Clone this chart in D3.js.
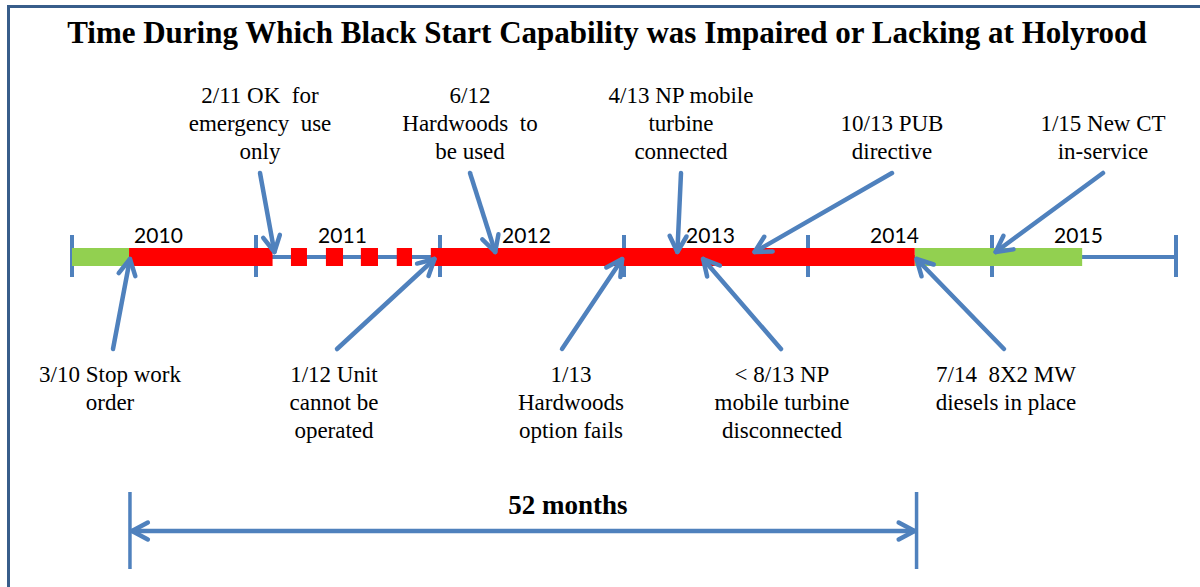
<!DOCTYPE html>
<html>
<head>
<meta charset="utf-8">
<script src="https://cdn.jsdelivr.net/npm/d3@7/dist/d3.min.js"></script>
<style>
  html, body { margin: 0; padding: 0; background: #ffffff; }
  svg text { white-space: pre; }
</style>
</head>
<body>
<svg id="chart" width="1200" height="587"></svg>
<script>
// ---------------- data ----------------
const title = "Time During Which Black Start Capability was Impaired or Lacking at Holyrood";
const years = [2010, 2011, 2012, 2013, 2014, 2015];
const axisStart = 2010;
const axisEnd = 2016;

// capability status along the timeline (decimal years)
const greenStarts = [2010.0, 2014.58];
const greenEnds   = [2010.31, 2015.49];
const redStarts   = [2010.31, 2011.19, 2011.38, 2011.57, 2011.765, 2011.95];
const redEnds     = [2011.09, 2011.277, 2011.473, 2011.663, 2011.848, 2014.58];

// events annotated above the timeline
const topDates  = [2011.10, 2012.30, 2013.29, 2013.71, 2015.02];
const topLabels = [
  ["2/11 OK  for", "emergency  use", "only"],
  ["6/12", "Hardwoods  to", "be used"],
  ["4/13 NP mobile", "turbine", "connected"],
  ["10/13 PUB", "directive"],
  ["1/15 New CT", "in-service"]
];
// events annotated below the timeline
const bottomDates  = [2010.315, 2011.97, 2012.99, 2013.43, 2014.59];
const bottomLabels = [
  ["3/10 Stop work", "order"],
  ["1/12 Unit", "cannot be", "operated"],
  ["1/13", "Hardwoods", "option fails"],
  ["< 8/13 NP", "mobile turbine", "disconnected"],
  ["7/14  8X2 MW", "diesels in place"]
];
const spanStart = 2010.315;
const spanEnd = 2014.59;
const spanLabel = "52 months";

// ---------------- layout ----------------
const topTextX = [260, 470, 681, 892, 1103];
const bottomTextX = [110, 334, 571, 782, 1006];
const bottomArrowX = [113, 337, 562, 781, 1004];

const BLUE = "#4F81BD";
const FRAME = "#385D8A";
const RED = "#FF0000";
const GREEN = "#92D050";
const SERIF = "'Liberation Serif', 'Times New Roman', serif";

const svg = d3.select("#chart");
const x = d3.scaleLinear().domain([axisStart, axisEnd]).range([72, 1176]);
const lineY = 257;

// frame
svg.append("rect")
  .attr("x", 8.5).attr("y", 6.5)
  .attr("width", 1220).attr("height", 620)
  .attr("fill", "none").attr("stroke", FRAME).attr("stroke-width", 3);

// title
svg.append("text")
  .attr("x", 607).attr("y", 43)
  .attr("text-anchor", "middle")
  .attr("font-family", SERIF).attr("font-weight", "bold")
  .attr("font-size", 31)
  .attr("fill", "#000")
  .text(title);

// base line
svg.append("line")
  .attr("x1", x(axisStart)).attr("x2", x(axisEnd))
  .attr("y1", lineY).attr("y2", lineY)
  .attr("stroke", BLUE).attr("stroke-width", 4);

// year ticks
const tickYears = years.concat([axisEnd]);
svg.selectAll("line.tick").data(tickYears).enter().append("line")
  .attr("class", "tick")
  .attr("x1", d => x(d)).attr("x2", d => x(d))
  .attr("y1", lineY - 22).attr("y2", lineY + 20)
  .attr("stroke", BLUE).attr("stroke-width", 4);

// year labels
svg.selectAll("text.year").data(years).enter().append("text")
  .attr("class", "year")
  .attr("x", d => x(d + 0.47)).attr("y", 243)
  .attr("text-anchor", "middle")
  .attr("font-family", "Lato, 'Open Sans', sans-serif")
  .attr("font-size", 21)
  .attr("fill", "#000")
  .text(d => d);

// status bars
const barH = 18;
svg.selectAll("rect.green").data(d3.range(greenStarts.length)).enter().append("rect")
  .attr("class", "green")
  .attr("x", i => x(greenStarts[i])).attr("width", i => x(greenEnds[i]) - x(greenStarts[i]))
  .attr("y", lineY - barH / 2).attr("height", barH)
  .attr("fill", GREEN);
svg.selectAll("rect.red").data(d3.range(redStarts.length)).enter().append("rect")
  .attr("class", "red")
  .attr("x", i => x(redStarts[i])).attr("width", i => x(redEnds[i]) - x(redStarts[i]))
  .attr("y", lineY - barH / 2).attr("height", barH)
  .attr("fill", RED);

// arrow helper
function arrow(g, x0, y0, x1, y1, heads) {
  g.append("line")
    .attr("x1", x0).attr("y1", y0).attr("x2", x1).attr("y2", y1)
    .attr("stroke", BLUE).attr("stroke-width", 4.5).attr("stroke-linecap", "round");
  const drawHead = (sx, sy, tx, ty) => {
    const th = Math.atan2(ty - sy, tx - sx);
    const L = 18, phi = 28 * Math.PI / 180;
    const a1 = [tx + L * Math.cos(th + Math.PI - phi), ty + L * Math.sin(th + Math.PI - phi)];
    const a2 = [tx + L * Math.cos(th + Math.PI + phi), ty + L * Math.sin(th + Math.PI + phi)];
    g.append("path")
      .attr("d", d3.line()([a1, [tx, ty], a2]))
      .attr("fill", "none").attr("stroke", BLUE).attr("stroke-width", 4.5)
      .attr("stroke-linecap", "round").attr("stroke-linejoin", "round");
  };
  drawHead(x0, y0, x1, y1);
  if (heads === 2) drawHead(x1, y1, x0, y0);
}

const arrows = svg.append("g");

// top annotations
topLabels.forEach((lines, i) => {
  const t = svg.append("text")
    .attr("text-anchor", "middle")
    .attr("font-family", SERIF).attr("font-size", 23).attr("fill", "#000");
  const lastY = 159;
  lines.forEach((ln, j) => {
    t.append("tspan")
      .attr("x", topTextX[i])
      .attr("y", lastY - (lines.length - 1 - j) * 28)
      .text(ln);
  });
  arrow(arrows, topTextX[i], 173, x(topDates[i]), 252, 1);
});

// bottom annotations
bottomLabels.forEach((lines, i) => {
  const t = svg.append("text")
    .attr("text-anchor", "middle")
    .attr("font-family", SERIF).attr("font-size", 23).attr("fill", "#000");
  lines.forEach((ln, j) => {
    t.append("tspan")
      .attr("x", bottomTextX[i])
      .attr("y", 382 + j * 28)
      .text(ln);
  });
  arrow(arrows, bottomArrowX[i], 349, x(bottomDates[i]), 259, 1);
});

// duration span
[spanStart, spanEnd].forEach(d => {
  svg.append("line")
    .attr("x1", x(d)).attr("x2", x(d))
    .attr("y1", 492).attr("y2", 569)
    .attr("stroke", BLUE).attr("stroke-width", 3.5);
});
arrow(svg.append("g"), x(spanEnd) - 2, 531, x(spanStart) + 2, 531, 2);
svg.append("text")
  .attr("x", 568).attr("y", 514)
  .attr("text-anchor", "middle")
  .attr("font-family", SERIF).attr("font-weight", "bold")
  .attr("font-size", 27).attr("fill", "#000")
  .text(spanLabel);
</script>
</body>
</html>
